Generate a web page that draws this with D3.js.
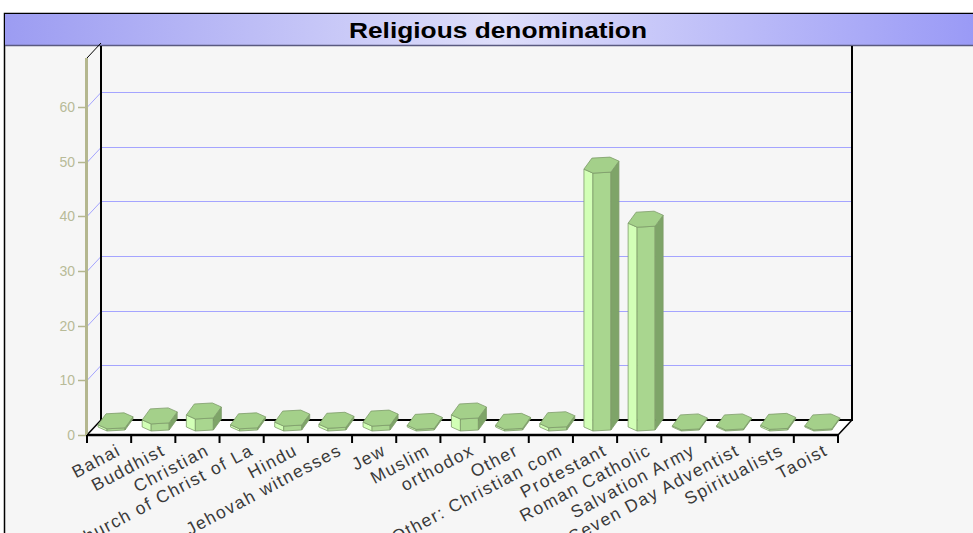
<!DOCTYPE html>
<html>
<head>
<meta charset="utf-8">
<script src="https://cdn.jsdelivr.net/npm/d3@7"></script>
<style>
body { margin: 0; background: #fff; }
</style>
</head>
<body>
<div id="chart"></div>
<script>
var chartTitle = "Religious denomination";
var categories = ["Bahai", "Buddhist", "Christian", "Church of Christ of La", "Hindu",
	"Jehovah witnesses", "Jew", "Muslim", "orthodox", "Other", "Other: Christian com",
	"Protestant", "Roman Catholic", "Salvation Army", "Seven Day Adventist",
	"Spiritualists", "Taoist"];
var values = [0.4, 1.3, 2.2, 0.4, 0.9, 0.5, 0.9, 0.3, 2.2, 0.3, 0.6, 47.2, 37.3, 0.2, 0.2, 0.3, 0.2];
var yTicks = [0, 10, 20, 30, 40, 50, 60];

var w = 973, h = 533;
var depth = {x: 14, y: -15};

var svg = d3.select("#chart").append("svg")
	.attr("width", w)
	.attr("height", h);

var defs = svg.append("defs");
var grad = defs.append("linearGradient").attr("id", "titleGrad")
	.attr("x1", "0%").attr("x2", "100%").attr("y1", "0%").attr("y2", "0%");
grad.append("stop").attr("offset", "0%").attr("stop-color", "#9c9cf2");
grad.append("stop").attr("offset", "50%").attr("stop-color", "#dedefa");
grad.append("stop").attr("offset", "100%").attr("stop-color", "#9898f6");

// frame + title bar
svg.append("rect").attr("x", 4.5).attr("y", 13.5).attr("width", 1000).attr("height", 600)
	.attr("fill", "#f6f6f6").attr("stroke", "#000").attr("stroke-width", 1.5);
svg.append("rect").attr("x", 5).attr("y", 14).attr("width", 983).attr("height", 31)
	.attr("fill", "url(#titleGrad)");
svg.append("line").attr("x1", 5).attr("x2", 973).attr("y1", 45.5).attr("y2", 45.5)
	.attr("stroke", "#5a5a80").attr("stroke-width", 1.5);
svg.append("text").attr("x", 498).attr("y", 38)
	.attr("text-anchor", "middle")
	.attr("textLength", 298).attr("lengthAdjust", "spacingAndGlyphs")
	.style("font-family", "'Liberation Sans', Arial, sans-serif")
	.style("font-weight", "bold").style("font-size", "22px")
	.attr("fill", "#000")
	.text(chartTitle);

var x = d3.scaleBand().domain(categories).range([87, 838]).paddingInner(0).paddingOuter(0);
var y = d3.scaleLinear().domain([0, 69]).range([435, 58]);
var x0 = x.range()[0], x1 = x.range()[1];
var snap = function(v) { return Math.round(v) + 0.5; };

var chart = svg.append("g").attr("class", "plot");

// floor
chart.append("polygon")
	.attr("points", [[x0, y(0)], [x0 + depth.x, y(0) + depth.y], [x1 + depth.x, y(0) + depth.y], [x1, y(0)]].join(" "))
	.attr("fill", "#fff");

// grid lines on back and left wall
var grid = yTicks.filter(function(d) { return d > 0; });
chart.selectAll(".grid-back").data(grid).enter().append("line")
	.attr("class", "grid-back")
	.attr("x1", x0 + depth.x).attr("x2", x1 + depth.x)
	.attr("y1", function(d) { return snap(y(d) + depth.y); })
	.attr("y2", function(d) { return snap(y(d) + depth.y); })
	.attr("stroke", "#a4a4ff").attr("stroke-width", 1.2);
chart.selectAll(".grid-left").data(grid).enter().append("line")
	.attr("class", "grid-left")
	.attr("x1", x0).attr("x2", x0 + depth.x)
	.attr("y1", function(d) { return snap(y(d)); })
	.attr("y2", function(d) { return snap(y(d) + depth.y); })
	.attr("stroke", "#a4a4ff").attr("stroke-width", 1);

// wall edges
var edge = function(ax, ay, bx, by, sw) {
	chart.append("line").attr("x1", ax).attr("y1", ay).attr("x2", bx).attr("y2", by)
		.attr("stroke", "#000").attr("stroke-width", sw);
};
edge(x0 + depth.x, 46, x0 + depth.x, y(0) + depth.y, 2);
edge(x1 + depth.x, 46, x1 + depth.x, y(0) + depth.y, 2);
edge(x0 + depth.x - 1, y(0) + depth.y, x1 + depth.x + 1, y(0) + depth.y, 2);
edge(x0, y(0), x0 + depth.x, y(0) + depth.y, 1.5);
edge(x1, y(0), x1 + depth.x, y(0) + depth.y, 1.5);
edge(x0, y(69), x0 + depth.x, y(69) + depth.y, 1);

// left axis (olive)
chart.append("rect").attr("x", x0 - 2).attr("y", y(69)).attr("width", 3).attr("height", y(0) - y(69))
	.attr("fill", "#b4b78f");
chart.selectAll(".ytick").data(yTicks).enter().append("line")
	.attr("x1", x0 - 9).attr("x2", x0 - 1)
	.attr("y1", function(d) { return snap(y(d)); }).attr("y2", function(d) { return snap(y(d)); })
	.attr("stroke", "#b4b78f").attr("stroke-width", 1.5);
chart.selectAll(".ylabel").data(yTicks).enter().append("text")
	.attr("x", x0 - 12).attr("y", function(d) { return y(d); })
	.attr("dy", "0.36em")
	.attr("text-anchor", "end")
	.style("font-family", "'Liberation Sans', Arial, sans-serif").style("font-size", "14px")
	.attr("fill", "#b8bb98")
	.text(function(d) { return d; });

// hexagonal prism bars
var hexTop = [[0, 0], [9, 4], [27, 3], [35, -8], [26, -12], [8, -11]];
var faces = [
	{from: 0, to: 1, fill: "#d2ffb6"},
	{from: 1, to: 2, fill: "#a9d68f"},
	{from: 2, to: 3, fill: "#7ea468"}
];
var bars = chart.selectAll(".bar").data(categories).enter().append("g").attr("class", "bar");
bars.each(function(c, i) {
	var g = d3.select(this);
	var ax = x(c) + 11;
	var top = y(values[i]) - 8;
	var base = y(0) - 8;
	var hh = base - top;
	faces.forEach(function(f) {
		var p = hexTop[f.from], q = hexTop[f.to];
		g.append("polygon")
			.attr("points", [[ax + p[0], top + p[1]], [ax + q[0], top + q[1]],
				[ax + q[0], top + q[1] + hh], [ax + p[0], top + p[1] + hh]].join(" "))
			.attr("fill", f.fill).attr("stroke", "#7d9c69").attr("stroke-width", 0.8);
	});
	g.append("polygon")
		.attr("points", hexTop.map(function(p) { return [ax + p[0], top + p[1]]; }).join(" "))
		.attr("fill", "#a4d08a").attr("stroke", "#7d9c69").attr("stroke-width", 0.8);
});

// front axis and ticks
edge(x0, y(0), x1, y(0), 2.5);
chart.selectAll(".xtick").data(d3.range(categories.length + 1)).enter().append("line")
	.attr("x1", function(i) { return x0 + i * x.step(); })
	.attr("x2", function(i) { return x0 + i * x.step(); })
	.attr("y1", y(0)).attr("y2", y(0) + 8)
	.attr("stroke", "#000").attr("stroke-width", 2);

chart.selectAll(".xlabel").data(categories).enter().append("text")
	.attr("transform", function(c) {
		return "translate(" + (x(c) + x.bandwidth() / 2 + 13) + "," + 454 + ") rotate(-28)";
	})
	.attr("text-anchor", "end")
	.style("font-family", "'Liberation Sans', Arial, sans-serif").style("font-size", "17.5px")
	.style("letter-spacing", "1.5px")
	.attr("fill", "#3a3a3a")
	.text(function(c) { return c; });
</script>
</body>
</html>
